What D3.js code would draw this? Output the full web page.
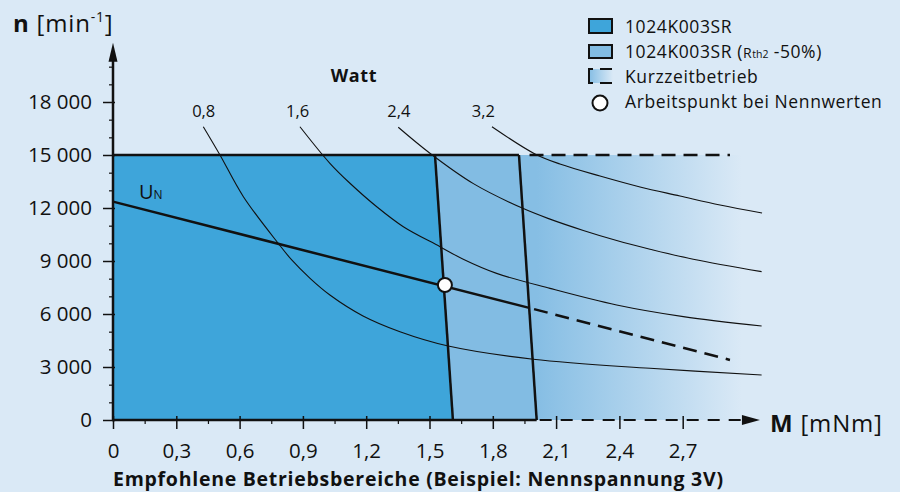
<!DOCTYPE html>
<html>
<head>
<meta charset="utf-8">
<script src="https://cdn.jsdelivr.net/npm/d3@7"></script>
<style>
  body { margin: 0; background: #dae9f6; }
  svg { display: block; font-family: 'Open Sans', sans-serif; }
</style>
</head>
<body>
<svg id="chart" width="900" height="492"></svg>
<script>
// values (M in mNm, n in min-1)
const xTicks = [0, 0.3, 0.6, 0.9, 1.2, 1.5, 1.8, 2.1, 2.4, 2.7];
const xMinor = [0.15, 0.45, 0.75, 1.05, 1.35, 1.65, 1.95];
const yTicks = [0, 3000, 6000, 9000, 12000, 15000, 18000];
const yMinor = [1000, 2000, 4000, 5000, 7000, 8000, 10000, 11000, 13000, 14000, 16000, 17000, 19000, 20000];

const maxSpeed = 15000;
const contLimit = [[1.526, 15000], [1.611, 0]];       // 1024K003SR
const contLimit50 = [[1.924, 15000], [2.008, 0]];     // Rth2 -50%
const shortEnd = 2.924;                               // end of dashed lines
const fadeEnd = 3.08;                                 // end of Kurzzeitbetrieb shading
const axisEndM = 3.066;
const axisEndN = 21350;

const ratedLine = [[0, 12360], [1.968, 6360]];
const ratedLineShort = [[1.968, 6360], [2.924, 3400]];
const workPoint = [1.573, 7640];

const powerLabels = ['0,8', '1,6', '2,4', '3,2'];
const powerLabelM = [0.43, 0.875, 1.355, 1.755];
const powerLabelN = 17170;

const curve08 = [[0.428, 16600], [0.507, 15000], [0.618, 12640], [0.783, 10000], [0.847, 9060], [0.934, 8020],
  [1.028, 7075], [1.185, 5890], [1.36, 5000], [1.589, 4190], [1.992, 3440], [2.545, 2925], [3.074, 2550]];
const curve16 = [[0.886, 16600], [1.028, 14530], [1.123, 13400], [1.25, 12070], [1.376, 10940], [1.55, 9810],
  [1.66, 9100], [1.818, 8300], [2.071, 7450], [2.387, 6510], [2.703, 5850], [3.074, 5320]];
const curve24 = [[1.352, 16570], [1.502, 15100], [1.708, 13380], [1.942, 11980], [2.071, 11370], [2.229, 10730],
  [2.387, 10160], [2.545, 9670], [2.75, 9100], [3.074, 8400]];
const curve32 = [[1.796, 16600], [2.0, 15060], [2.118, 14490], [2.308, 13810], [2.498, 13190], [2.687, 12680],
  [2.877, 12170], [3.076, 11720]];
const powerCurves = [curve08, curve16, curve24, curve32];

const legendNames = ['1024K003SR', '1024K003SR', 'Kurzzeitbetrieb', 'Arbeitspunkt bei Nennwerten'];

const colDark = '#3ea5da',
  colLight = '#82bce3',
  colBg = '#dae9f6',
  ink = '#111';

const x = d3.scaleLinear().domain([0, 3]).range([113, 746]);
const y = d3.scaleLinear().domain([0, 18000]).range([420, 102]);

const loc = d3.formatLocale({ decimal: ',', thousands: ' ', grouping: [3], currency: ['', ''] });
const fmtY = loc.format(',');
const fmtX = d => (d === 0 ? '0' : loc.format('.1f')(d));

const svg = d3.select('#chart');
svg.append('rect').attr('width', 900).attr('height', 492).attr('fill', colBg);

const defs = svg.append('defs');
const grad = defs
  .append('linearGradient')
  .attr('id', 'fade')
  .attr('gradientUnits', 'userSpaceOnUse')
  .attr('x1', x(contLimit50[1][0]))
  .attr('x2', x(2.98))
  .attr('y1', 0)
  .attr('y2', 0);
grad.append('stop').attr('offset', 0).attr('stop-color', '#86bee4');
grad.append('stop').attr('offset', 1).attr('stop-color', colBg);

const legGrad = defs.append('linearGradient').attr('id', 'legfade');
legGrad.append('stop').attr('offset', 0).attr('stop-color', '#86bee4');
legGrad.append('stop').attr('offset', 1).attr('stop-color', colBg);

const line = d3
  .line()
  .x(d => x(d[0]))
  .y(d => y(d[1]));
const smooth = d3
  .line()
  .x(d => x(d[0]))
  .y(d => y(d[1]))
  .curve(d3.curveCatmullRom.alpha(0.5));

// areas
svg
  .append('path')
  .attr('d', line([contLimit50[0], [fadeEnd, maxSpeed], [fadeEnd, 0], contLimit50[1]]) + 'Z')
  .attr('fill', 'url(#fade)');
svg
  .append('path')
  .attr('d', line([contLimit[0], contLimit50[0], contLimit50[1], contLimit[1]]) + 'Z')
  .attr('fill', colLight);
svg
  .append('path')
  .attr('d', line([[0, 0], [0, maxSpeed], contLimit[0], contLimit[1]]) + 'Z')
  .attr('fill', colDark);

// power curves
svg
  .selectAll('.pcurve')
  .data(powerCurves)
  .enter()
  .append('path')
  .attr('class', 'pcurve')
  .attr('d', smooth)
  .attr('fill', 'none')
  .attr('stroke', ink)
  .attr('stroke-width', 1.1);

svg
  .selectAll('.plabel')
  .data(powerLabels)
  .enter()
  .append('text')
  .attr('class', 'plabel')
  .attr('x', (d, i) => x(powerLabelM[i]))
  .attr('y', y(powerLabelN))
  .attr('text-anchor', 'middle')
  .attr('font-size', 16.5)
  .attr('fill', ink)
  .text(d => d);

svg
  .append('text')
  .attr('x', 354)
  .attr('y', 82)
  .attr('text-anchor', 'middle')
  .attr('font-size', 18)
  .attr('letter-spacing', 0.6)
  .attr('font-weight', 'bold')
  .attr('fill', ink)
  .text('Watt');

// speed limit line
svg
  .append('path')
  .attr('d', line([[0, maxSpeed], contLimit50[0]]))
  .attr('stroke', ink)
  .attr('stroke-width', 2.5);
svg
  .append('path')
  .attr('d', line([[contLimit50[0][0] + 0.05, maxSpeed], [shortEnd, maxSpeed]]))
  .attr('stroke', ink)
  .attr('stroke-width', 2.5)
  .attr('stroke-dasharray', '14,8');

// boundary lines
[contLimit, contLimit50].forEach(l => {
  svg
    .append('path')
    .attr('d', line(l))
    .attr('stroke', ink)
    .attr('stroke-width', 2.5);
});

// U_N line
svg
  .append('path')
  .attr('d', line(ratedLine))
  .attr('stroke', ink)
  .attr('stroke-width', 2.5);
svg
  .append('path')
  .attr('d', line(ratedLineShort))
  .attr('stroke', ink)
  .attr('stroke-width', 2.5)
  .attr('stroke-dasharray', '14,8')
  .attr('stroke-dashoffset', -6);

const un = svg
  .append('text')
  .attr('x', 139)
  .attr('y', 199)
  .attr('font-size', 20)
  .attr('fill', ink);
un.append('tspan').text('U');
un.append('tspan').attr('font-size', 12).text('N');

svg
  .append('circle')
  .attr('cx', x(workPoint[0]))
  .attr('cy', y(workPoint[1]))
  .attr('r', 7)
  .attr('fill', '#fff')
  .attr('stroke', ink)
  .attr('stroke-width', 2);

// y axis
const yAxis = svg
  .append('g')
  .attr('transform', `translate(${x(0)},0)`)
  .call(
    d3
      .axisLeft(y)
      .tickValues(yTicks)
      .tickFormat(fmtY)
      .tickSize(10)
  );
yAxis.select('.domain').remove();
yAxis
  .selectAll('.tick line')
  .attr('x1', 2)
  .attr('stroke', ink)
  .attr('stroke-width', 1.5);
yAxis
  .selectAll('.tick text')
  .attr('x', -21)
  .attr('font-size', 20.5)
  .attr('font-family', "'Open Sans', sans-serif")
  .attr('fill', ink);

const yMin = svg
  .append('g')
  .attr('transform', `translate(${x(0)},0)`)
  .call(
    d3
      .axisLeft(y)
      .tickValues(yMinor)
      .tickFormat('')
      .tickSize(4)
  );
yMin.select('.domain').remove();
yMin.selectAll('.tick line').attr('stroke', ink).attr('stroke-width', 1.2);

svg
  .append('line')
  .attr('x1', x(0))
  .attr('x2', x(0))
  .attr('y1', y(0) + 1)
  .attr('y2', y(axisEndN) + 12)
  .attr('stroke', ink)
  .attr('stroke-width', 2.5);
svg
  .append('path')
  .attr('d', `M${x(0)},${y(axisEndN)} l-4.5,19 l9,0 Z`)
  .attr('fill', ink);

// x axis
const xAxis = svg
  .append('g')
  .attr('transform', `translate(0,${y(0)})`)
  .call(
    d3
      .axisBottom(x)
      .tickValues(xTicks)
      .tickFormat(fmtX)
      .tickSize(9)
  );
xAxis.select('.domain').remove();
xAxis
  .selectAll('.tick line')
  .attr('y1', -4)
  .attr('stroke', ink)
  .attr('stroke-width', 1.5);
xAxis
  .selectAll('.tick text')
  .attr('y', 38)
  .attr('dy', 0)
  .attr('font-size', 20.5)
  .attr('font-family', "'Open Sans', sans-serif")
  .attr('fill', ink);

const xMin = svg
  .append('g')
  .attr('transform', `translate(0,${y(0)})`)
  .call(
    d3
      .axisBottom(x)
      .tickValues(xMinor)
      .tickFormat('')
      .tickSize(4)
  );
xMin.select('.domain').remove();
xMin.selectAll('.tick line').attr('stroke', ink).attr('stroke-width', 1.2);

svg
  .append('line')
  .attr('x1', x(0) - 1)
  .attr('x2', x(contLimit50[1][0]))
  .attr('y1', y(0))
  .attr('y2', y(0))
  .attr('stroke', ink)
  .attr('stroke-width', 2.5);
svg
  .append('line')
  .attr('x1', x(contLimit50[1][0]) + 3)
  .attr('x2', x(axisEndM) - 14)
  .attr('y1', y(0))
  .attr('y2', y(0))
  .attr('stroke', ink)
  .attr('stroke-width', 2)
  .attr('stroke-dasharray', '12,9');
svg
  .append('path')
  .attr('d', `M${x(axisEndM)},${y(0)} l-18,-5 l0,10 Z`)
  .attr('fill', ink);

// axis titles
const ny = svg
  .append('text')
  .attr('x', 13)
  .attr('y', 32)
  .attr('font-size', 24)
  .attr('letter-spacing', 0.8)
  .attr('fill', ink);
ny.append('tspan').attr('font-weight', 'bold').text('n');
ny.append('tspan').text(' [min');
ny.append('tspan').attr('font-size', 14).attr('dy', -10).text('-1');
ny.append('tspan').attr('dy', 10).text(']');

const mx = svg
  .append('text')
  .attr('x', 770)
  .attr('y', 432)
  .attr('font-size', 24)
  .attr('letter-spacing', 0.8)
  .attr('fill', ink);
mx.append('tspan').attr('font-weight', 'bold').text('M');
mx.append('tspan').text(' [mNm]');

svg
  .append('text')
  .attr('x', 113)
  .attr('y', 486)
  .attr('font-size', 19.5)
  .attr('font-weight', 'bold')
  .attr('textLength', 610)
  .attr('lengthAdjust', 'spacing')
  .attr('fill', ink)
  .text('Empfohlene Betriebsbereiche (Beispiel: Nennspannung 3V)');

// legend
const lx = 588,
  tx = 625;
svg
  .append('rect')
  .attr('x', lx + 1)
  .attr('y', 19)
  .attr('width', 23)
  .attr('height', 14)
  .attr('fill', colDark)
  .attr('stroke', ink)
  .attr('stroke-width', 2);
svg
  .append('rect')
  .attr('x', lx + 1)
  .attr('y', 45)
  .attr('width', 23)
  .attr('height', 13)
  .attr('fill', colLight)
  .attr('stroke', ink)
  .attr('stroke-width', 2);
svg
  .append('rect')
  .attr('x', lx + 1)
  .attr('y', 69)
  .attr('width', 24)
  .attr('height', 14)
  .attr('fill', 'url(#legfade)');
svg
  .append('path')
  .attr('d', `M${lx + 5},69 H${lx + 1} V83 H${lx + 5} M${lx + 12},69 H${lx + 24} M${lx + 12},83 H${lx + 24}`)
  .attr('fill', 'none')
  .attr('stroke', ink)
  .attr('stroke-width', 2);
svg
  .append('circle')
  .attr('cx', lx + 12)
  .attr('cy', 103)
  .attr('r', 7.5)
  .attr('fill', '#fff')
  .attr('stroke', ink)
  .attr('stroke-width', 2);

const legBase = [33, 58, 83, 108];
legendNames.forEach((name, i) => {
  const t = svg
    .append('text')
    .attr('x', tx)
    .attr('y', legBase[i])
    .attr('font-size', 17.5)
    .attr('letter-spacing', 0.6)
    .attr('fill', ink);
  t.append('tspan').text(name);
  if (i === 1) {
    t.append('tspan').text(' (');
    t.append('tspan').attr('font-size', 14).text('R');
    t.append('tspan').attr('font-size', 10.5).attr('letter-spacing', 0).text('th2');
    t.append('tspan').text(' -50%)');
  }
});
</script>
</body>
</html>
